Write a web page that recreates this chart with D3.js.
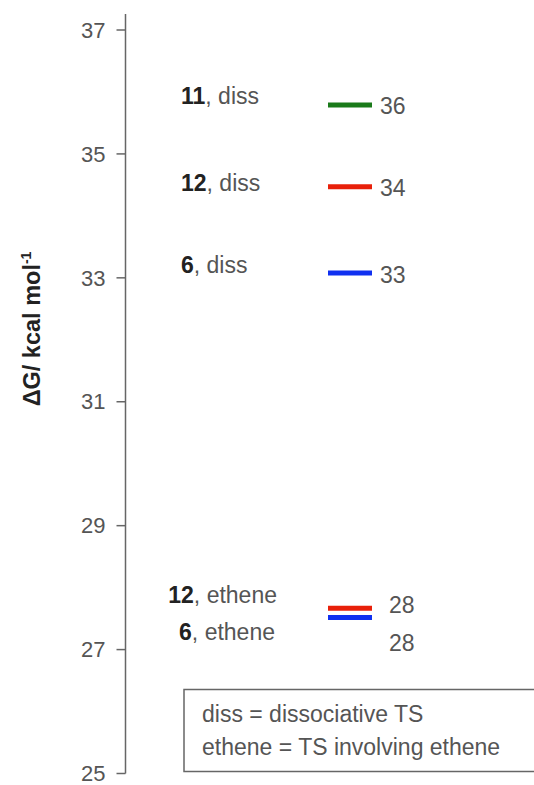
<!DOCTYPE html>
<html><head><meta charset="utf-8">
<script src="https://cdn.jsdelivr.net/npm/d3@7"></script>
<style>body{margin:0;background:#fff;} svg{display:block;font-family:"Liberation Sans",Arial,sans-serif;}</style>
</head><body>
<svg id="c" width="534" height="785"></svg>
<script>
const yTicks = [25, 27, 29, 31, 33, 35, 37];
const compounds = ["11", "12", "6", "12", "6"];
const tsTypes = ["diss", "diss", "diss", "ethene", "ethene"];
const energies = [35.78, 34.46, 33.07, 27.66, 27.51];
const valueLabels = ["36", "34", "33", "28", "28"];
const colors = ["#1a7a1a", "#e8200a", "#1030f0", "#e8200a", "#1030f0"];
const legendLines = ["diss = dissociative TS", "ethene = TS involving ethene"];

const svg = d3.select("#c");
const y = d3.scaleLinear().domain([25, 37]).range([773, 29.5]);
const axisX = 125.5;
const FS = 23;

// axis
const ax = svg.append("g").attr("transform", `translate(${axisX},0)`)
  .call(d3.axisLeft(y).tickValues(yTicks).tickSize(9).tickPadding(11).tickSizeOuter(0));
ax.select(".domain").remove();
ax.append("line").attr("x1",0).attr("x2",0).attr("y1",14).attr("y2",773.5).attr("stroke","#666").attr("stroke-width",1.5);
ax.selectAll(".tick line").attr("stroke","#666").attr("stroke-width",1.5);
ax.selectAll(".tick text").attr("font-size",22).attr("fill","#555").attr("font-family","Liberation Sans, Arial, sans-serif").attr("dy","0.35em");

// axis title
const t = svg.append("text").attr("transform","translate(40,329) rotate(-90)")
  .attr("text-anchor","middle").attr("font-size",23.5).attr("font-weight","bold").attr("fill","#222");
t.append("tspan").text("ΔG");
t.append("tspan").text("/ kcal mol");
t.append("tspan").text("-1").attr("font-size",14).attr("dy",-9);

const data = energies.map((e,i)=>({e, c:compounds[i], ts:tsTypes[i], v:valueLabels[i], col:colors[i], i}));

// level bars
svg.selectAll("line.lvl").data(data).enter().append("line")
  .attr("x1",328).attr("x2",372)
  .attr("y1",d=>y(d.e)).attr("y2",d=>y(d.e))
  .attr("stroke",d=>d.col).attr("stroke-width",5);

// value labels
const valPos = [{dx:380, dy:1},{dx:380, dy:1},{dx:380, dy:2},{dx:389, dy:-3},{dx:389, dy:25.5}];
svg.selectAll("text.val").data(data).enter().append("text")
  .attr("x",(d,i)=>valPos[i].dx).attr("y",(d,i)=>y(d.e)+valPos[i].dy)
  .attr("dy","0.35em").attr("font-size",FS).attr("fill","#555").text(d=>d.v);

// category labels
const labPos = [{x:181,a:"start",dy:-9},{x:181,a:"start",dy:-4},{x:181,a:"start",dy:-8},{x:277,a:"end",dy:-13},{x:275,a:"end",dy:14.5}];
const labs = svg.selectAll("text.lab").data(data).enter().append("text")
  .attr("x",(d,i)=>labPos[i].x).attr("y",(d,i)=>y(d.e)+labPos[i].dy)
  .attr("text-anchor",(d,i)=>labPos[i].a).attr("dy","0.35em").attr("font-size",FS).attr("fill","#555");
labs.append("tspan").attr("font-weight","bold").attr("fill","#222").text(d=>d.c);
labs.append("tspan").text(d=>", "+d.ts);

// legend box
svg.append("rect").attr("x",184).attr("y",689.5).attr("width",380).attr("height",82)
  .attr("fill","#fff").attr("stroke","#666").attr("stroke-width",1.5);
svg.selectAll("text.leg").data(legendLines).enter().append("text")
  .attr("x",202).attr("y",(d,i)=>714+i*33).attr("dy","0.35em").attr("font-size",FS).attr("fill","#555").text(d=>d);
</script>
</body></html>
